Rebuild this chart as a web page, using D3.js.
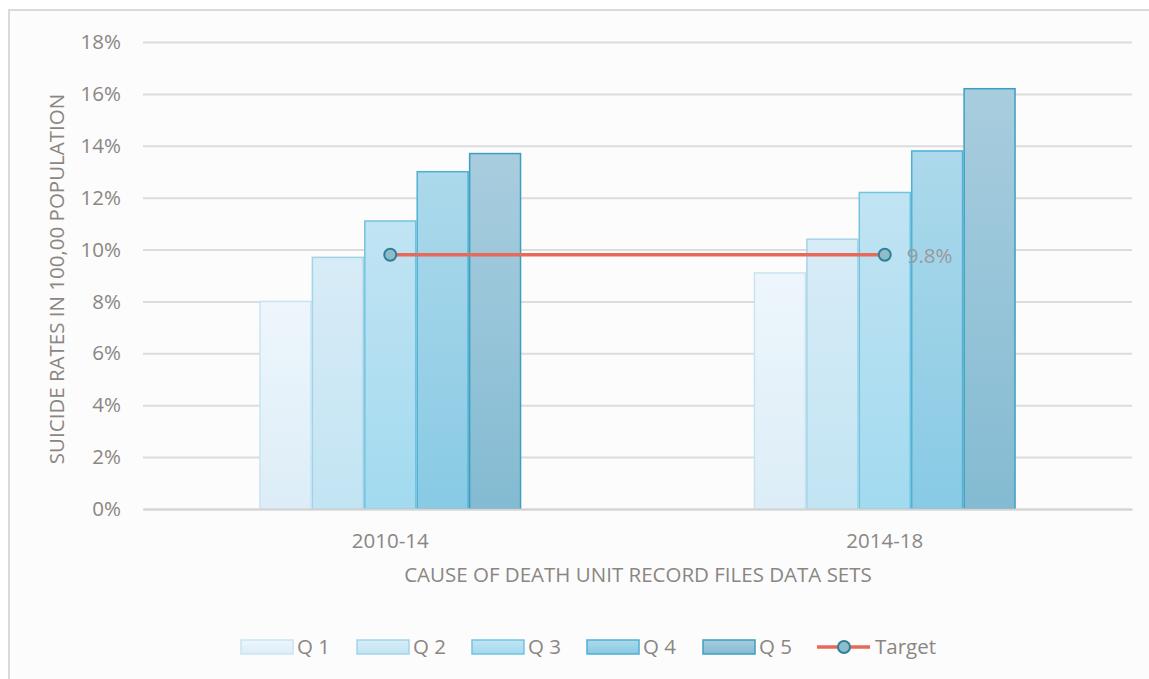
<!DOCTYPE html>
<html><head><meta charset="utf-8">
<script src="https://cdn.jsdelivr.net/npm/d3@7"></script>
<style>html,body{margin:0;padding:0;background:#fff;}svg{display:block;}</style>
</head><body><svg id="c" width="1149" height="679"></svg>
<script>
const categories = ["2010-14", "2014-18"];
const seriesNames = ["Q 1", "Q 2", "Q 3", "Q 4", "Q 5"];
const q1 = [8.0, 9.1];
const q2 = [9.7, 10.4];
const q3 = [11.1, 12.2];
const q4 = [13.0, 13.8];
const q5 = [13.7, 16.2];
const target = [9.8, 9.8];
const yTicks = [0, 2, 4, 6, 8, 10, 12, 14, 16, 18];
const seriesValues = [q1, q2, q3, q4, q5];

const fills = [["#eef6fc", "#dcedf7"], ["#d8ecf7", "#c2e4f3"], ["#c1e4f3", "#a2daef"], ["#acd9eb", "#88cae4"], ["#a8cdde", "#84bbd2"]];
const strokes = ["#c9e4f1", "#a2d4e9", "#72c3e0", "#4eb0d3", "#3d9fc0"];
const textColor = "#8b8682";
const font = "'Open Sans', sans-serif";
const fs = 20.5;

const svg = d3.select("#c");
const W = 1149, H = 679;
svg.append("rect").attr("x", 0).attr("y", 0).attr("width", W).attr("height", H).attr("fill", "#fff");
svg.append("rect").attr("x", 9).attr("y", 10).attr("width", W + 10).attr("height", H + 10)
  .attr("fill", "#fcfcfc").attr("stroke", "#dadada").attr("stroke-width", 2);

const defs = svg.append("defs");
fills.forEach((f, i) => {
  const g = defs.append("linearGradient").attr("id", "g" + i).attr("x1", 0).attr("y1", 0).attr("x2", 0).attr("y2", 1);
  g.append("stop").attr("offset", "0%").attr("stop-color", f[0]);
  g.append("stop").attr("offset", "100%").attr("stop-color", f[1]);
});

const pLeft = 143, pRight = 1132, pTop = 42, pBottom = 509;
const x = d3.scaleBand().domain(categories).range([pLeft, pRight]);
const y = d3.scaleLinear().domain([0, 18]).range([pBottom, pTop]);
const groupW = x.bandwidth() * 0.53;
const x1 = d3.scaleBand().domain(seriesNames).range([0, groupW]);

// gridlines
const yAxis = d3.axisLeft(y).tickValues(yTicks).tickSize(-(pRight - pLeft)).tickFormat(d => d + "%").tickPadding(22);
const ga = svg.append("g").attr("transform", `translate(${pLeft},0)`).call(yAxis);
ga.select(".domain").remove();
ga.selectAll(".tick line").attr("stroke", "#dcdcdc").attr("stroke-width", 2);
ga.selectAll(".tick text").attr("fill", textColor).attr("font-family", font).attr("font-size", fs);

// bars
seriesNames.forEach((s, i) => {
  svg.append("g").selectAll("rect").data(seriesValues[i]).join("rect")
    .attr("x", (d, j) => x(categories[j]) + (x.bandwidth() - groupW) / 2 + x1(s) + 0.75)
    .attr("y", d => y(d))
    .attr("width", x1.bandwidth() - 1.5)
    .attr("height", d => pBottom - y(d))
    .attr("fill", `url(#g${i})`)
    .attr("stroke", strokes[i]).attr("stroke-width", 1.5);
});

// x axis baseline
const xAxis = d3.axisBottom(x).tickSize(0).tickPadding(24);
const gx = svg.append("g").attr("transform", `translate(0,${pBottom})`).call(xAxis);
gx.select(".domain").attr("stroke", "#d4d4d4").attr("stroke-width", 2);
gx.selectAll(".tick text").attr("fill", textColor).attr("font-family", font).attr("font-size", fs);

// target line
const cx = (d, j) => x(categories[j]) + x.bandwidth() / 2;
svg.append("path").datum(target)
  .attr("d", d3.line().x((d, j) => cx(d, j)).y(d => y(d)))
  .attr("fill", "none").attr("stroke", "#e8695a").attr("stroke-width", 3.5);
svg.append("g").selectAll("circle").data(target).join("circle")
  .attr("cx", (d, j) => cx(d, j)).attr("cy", d => y(d)).attr("r", 6)
  .attr("fill", "#8fbccb").attr("stroke", "#2f7f99").attr("stroke-width", 2);
svg.append("text").attr("x", cx(target[1], 1) + 22).attr("y", y(target[1]) + 8)
  .attr("fill", "#999").attr("font-family", font).attr("font-size", fs)
  .text(target[1].toFixed(1) + "%");

// axis titles
svg.append("text").attr("transform", `translate(64,279) rotate(-90)`)
  .attr("text-anchor", "middle").attr("fill", textColor).attr("font-family", font).attr("font-size", fs)
  .text("SUICIDE RATES IN 100,00 POPULATION");
svg.append("text").attr("x", 638).attr("y", 582).attr("text-anchor", "middle")
  .attr("fill", textColor).attr("font-family", font).attr("font-size", fs)
  .text("CAUSE OF DEATH UNIT RECORD FILES DATA SETS");

// legend
const legendX = [241, 357, 472, 587, 703];
const ly = 647;
seriesNames.forEach((s, i) => {
  svg.append("rect").attr("x", legendX[i]).attr("y", ly - 7).attr("width", 52).attr("height", 14)
    .attr("fill", `url(#g${i})`).attr("stroke", strokes[i]).attr("stroke-width", 1.5);
  svg.append("text").attr("x", legendX[i] + 56).attr("y", ly + 7).attr("fill", textColor)
    .attr("font-family", font).attr("font-size", fs).text(s);
});
svg.append("line").attr("x1", 817).attr("x2", 870).attr("y1", ly).attr("y2", ly)
  .attr("stroke", "#e8695a").attr("stroke-width", 3.5);
svg.append("circle").attr("cx", 844).attr("cy", ly).attr("r", 6)
  .attr("fill", "#8fbccb").attr("stroke", "#2f7f99").attr("stroke-width", 2);
svg.append("text").attr("x", 875).attr("y", ly + 7).attr("fill", textColor)
  .attr("font-family", font).attr("font-size", fs).text("Target");
</script></body></html>
